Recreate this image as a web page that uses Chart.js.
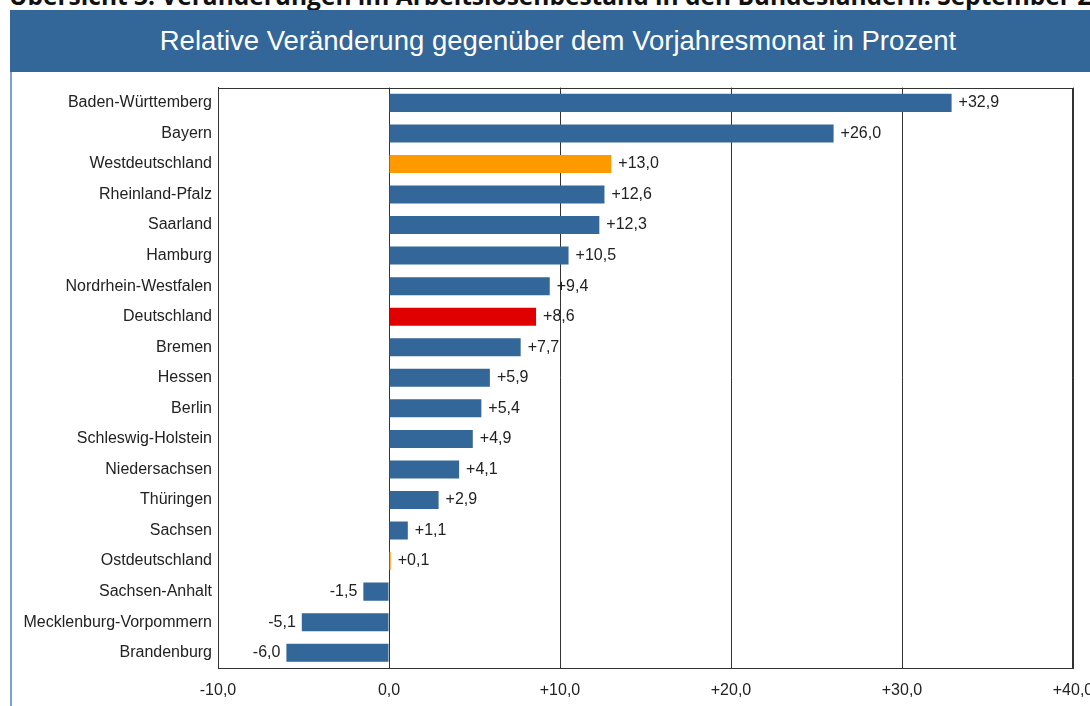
<!DOCTYPE html>
<html lang="de">
<head>
<meta charset="utf-8">
<script src="https://cdn.jsdelivr.net/npm/chart.js@4.4.1/dist/chart.umd.min.js"></script>
<style>
    html, body { margin: 0; padding: 0; background: #fff; overflow: hidden; }
    body { width: 1090px; height: 706px; position: relative; }
    .doc-title {
        position: absolute; left: 9px; top: -21px; white-space: nowrap;
        font: bold 24.5px "Open Sans", "Liberation Sans", Arial, sans-serif; color: #111;
    }
    .card {
        position: absolute; left: 10px; top: 10px; width: 1080px; height: 696px;
        border-left: 2px solid #7aa3cf; box-sizing: border-box;
    }
    .banner {
        position: absolute; left: 10px; top: 10px; width: 1080px; height: 62px;
        box-sizing: border-box; padding-left: 16px;
        background: #336699; color: #fff; text-align: center;
        font: 27.5px "Liberation Sans", Arial, sans-serif; line-height: 62px;
    }
    .chart-wrap { position: absolute; left: 12px; top: 72px; width: 1078px; height: 634px; }
</style>
</head>
<body>
<div class="doc-title">Übersicht 3: Veränderungen im Arbeitslosenbestand in den Bundesländern: September 2025</div>
<div class="card"></div>
<div class="banner">Relative Veränderung gegenüber dem Vorjahresmonat in Prozent</div>
<div class="chart-wrap"><canvas id="chart" width="1078" height="634"></canvas></div>
<script>
// Werte
const regions = [
    'Baden-Württemberg', 'Bayern', 'Westdeutschland', 'Rheinland-Pfalz', 'Saarland',
    'Hamburg', 'Nordrhein-Westfalen', 'Deutschland', 'Bremen', 'Hessen', 'Berlin',
    'Schleswig-Holstein', 'Niedersachsen', 'Thüringen', 'Sachsen', 'Ostdeutschland',
    'Sachsen-Anhalt', 'Mecklenburg-Vorpommern', 'Brandenburg'
];
const changePct = [32.9, 26.0, 13.0, 12.6, 12.3, 10.5, 9.4, 8.6, 7.7, 5.9, 5.4, 4.9, 4.1, 2.9, 1.1, 0.1, -1.5, -5.1, -6.0];
const xTicks = [-10, 0, 10, 20, 30, 40];
const macroRegions = ['Westdeutschland', 'Ostdeutschland'];
const nation = 'Deutschland';

const FONT = '"Liberation Sans", Arial, sans-serif';
const fmt = v => (v > 0 ? '+' : '') + v.toFixed(1).replace('.', ',');

const barColors = regions.map(r => {
    if (r === nation) return '#e00000';
    if (macroRegions.includes(r)) return '#ff9900';
    return '#336699';
});

const frame = {
    id: 'frame',
    afterDraw(chart) {
        const { ctx, chartArea: a } = chart;
        ctx.save();
        ctx.strokeStyle = '#333';
        ctx.lineWidth = 1;
        ctx.strokeRect(Math.round(a.left) + 0.5, Math.round(a.top) + 0.5,
            Math.round(a.right - a.left) - 1, Math.round(a.bottom - a.top));
        ctx.restore();
    }
};

const valueLabels = {
    id: 'valueLabels',
    afterDatasetsDraw(chart) {
        const { ctx } = chart;
        const meta = chart.getDatasetMeta(0);
        ctx.save();
        ctx.font = '16px ' + FONT;
        ctx.fillStyle = '#222';
        ctx.textBaseline = 'middle';
        meta.data.forEach((bar, i) => {
            const v = changePct[i];
            if (v >= 0) {
                ctx.textAlign = 'left';
                ctx.fillText(fmt(v), bar.x + 7, bar.y);
            } else {
                ctx.textAlign = 'right';
                ctx.fillText(fmt(v), bar.x - 6, bar.y);
            }
        });
        ctx.restore();
    }
};

new Chart(document.getElementById('chart'), {
    type: 'bar',
    data: {
        labels: regions,
        datasets: [{
            data: changePct,
            backgroundColor: barColors,
            borderWidth: 0,
            barPercentage: 0.59,
            categoryPercentage: 1
        }]
    },
    options: {
        indexAxis: 'y',
        responsive: false,
        animation: false,
        layout: { padding: { top: 15, right: 17, left: 0, bottom: 0 } },
        scales: {
            x: {
                min: xTicks[0],
                max: xTicks[xTicks.length - 1],
                afterBuildTicks: scale => { scale.ticks = xTicks.map(v => ({ value: v })); },
                afterFit: scale => {
                    scale.height = 38;
                    scale.paddingLeft = 0;
                    scale.paddingRight = 0;
                },
                grid: { color: '#333', lineWidth: 1, drawTicks: false },
                border: { display: true, color: '#333' },
                ticks: {
                    padding: 13,
                    color: '#222',
                    font: { family: FONT, size: 16 },
                    maxRotation: 0,
                    callback: v => fmt(v)
                }
            },
            y: {
                afterFit: scale => { scale.width = 206; },
                grid: { display: false, drawTicks: false },
                border: { display: true, color: '#333' },
                ticks: {
                    padding: 6,
                    color: '#222',
                    font: { family: FONT, size: 16 },
                    autoSkip: false
                }
            }
        },
        plugins: {
            legend: { display: false },
            tooltip: { enabled: false }
        }
    },
    plugins: [valueLabels, frame]
});
</script>
</body>
</html>
